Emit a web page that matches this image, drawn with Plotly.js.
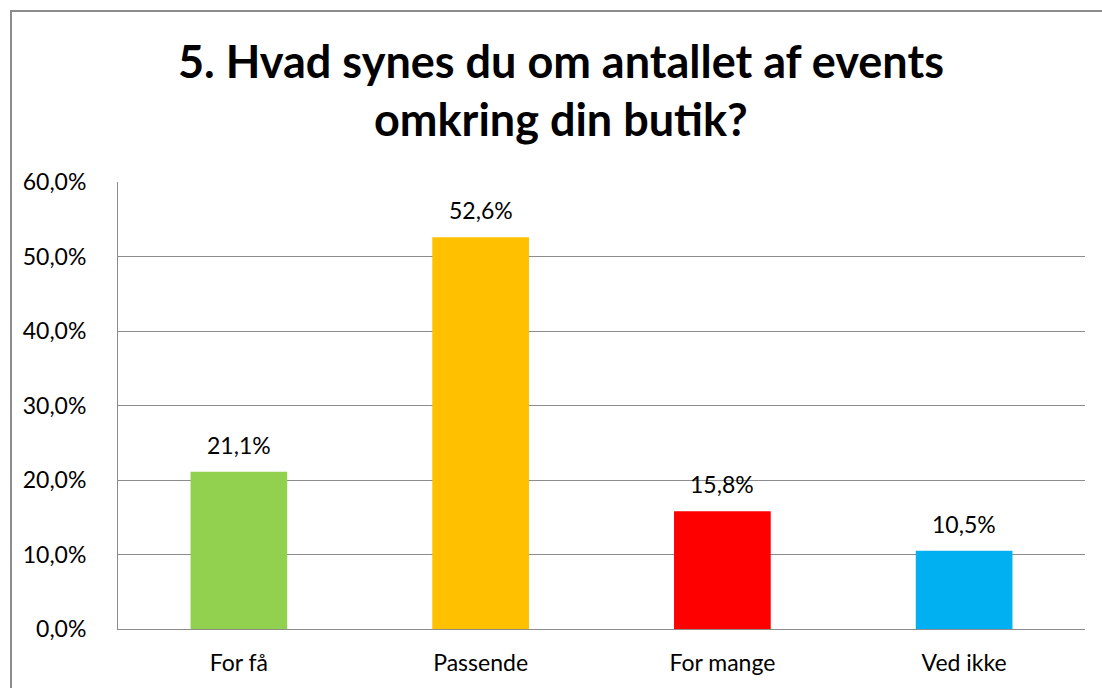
<!DOCTYPE html>
<html>
<head>
<meta charset="utf-8">
<script src="https://cdn.plot.ly/plotly-3.0.1.min.js"></script>
<style>
  html, body { margin: 0; padding: 0; background: #fff; overflow: hidden; }
  #frame { position: absolute; left: 10px; top: 10px; width: 1200px; height: 800px;
           border-left: 2px solid #8c8c8c; border-top: 2px solid #8c8c8c; }
  #chart { position: absolute; left: 0; top: 0; width: 1102px; height: 688px; }
</style>
</head>
<body>
<div id="frame"></div>
<div id="chart"></div>
<script>
const categories = ['For få', 'Passende', 'For mange', 'Ved ikke'];
const shares = [0.211, 0.526, 0.158, 0.105];
const barColors = ['#92D050', '#FFC000', '#FF0000', '#00B0F0'];
const yTicks = [0, 0.1, 0.2, 0.3, 0.4, 0.5, 0.6];

const font = 'Lato, "Open Sans", sans-serif';

const trace = {
  x: categories,
  y: shares,
  type: 'bar',
  marker: { color: barColors },
  hoverinfo: 'skip'
};

// value labels above the bars
const labels = categories.map((c, i) => ({
  x: c,
  y: shares[i],
  text: (shares[i] * 100).toFixed(1).replace('.', ',') + '%',
  showarrow: false,
  yanchor: 'bottom',
  yshift: 11,
  font: { family: font, size: 23, color: '#000' }
}));

const layout = {
  width: 1102,
  height: 688,
  margin: { l: 118, r: 17, t: 182, b: 59 },
  paper_bgcolor: 'rgba(0,0,0,0)',
  plot_bgcolor: 'rgba(0,0,0,0)',
  separators: ',.',
  showlegend: false,
  bargap: 0.6,
  font: { family: font, size: 23, color: '#000' },
  title: {
    text: '<b>5. Hvad synes du om antallet af events<br>omkring din butik?</b>',
    font: { family: font, size: 45, color: '#000' },
    x: 0.509,
    xanchor: 'center',
    xref: 'container',
    y: 0.887,
    yanchor: 'top'
  },
  xaxis: {
    showgrid: false,
    showline: true,
    linecolor: '#8c8c8c',
    linewidth: 1,
    ticks: '',
    ticklabelstandoff: 13,
    tickfont: { family: font, size: 23, color: '#000' }
  },
  yaxis: {
    range: [0, 0.6],
    tickvals: yTicks,
    tickformat: '.1%',
    showgrid: true,
    gridcolor: '#8c8c8c',
    gridwidth: 1,
    zeroline: false,
    showline: true,
    linecolor: '#8c8c8c',
    linewidth: 1,
    ticks: '',
    ticklabelstandoff: 26,
    tickfont: { family: font, size: 23, color: '#000' }
  },
  annotations: labels
};

Plotly.newPlot('chart', [trace], layout, { displayModeBar: false, staticPlot: true });
</script>
</body>
</html>
